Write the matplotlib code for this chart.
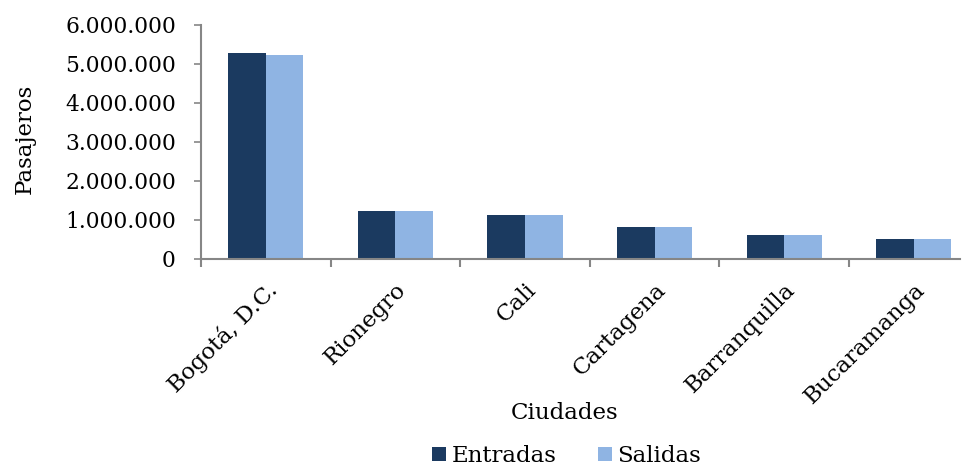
import matplotlib
matplotlib.use("Agg")
import matplotlib.pyplot as plt
import matplotlib.transforms as mtransforms
import numpy as np
from matplotlib.ticker import FuncFormatter, FixedLocator

ciudades = ["Bogotá, D.C.", "Rionegro", "Cali", "Cartagena", "Barranquilla", "Bucaramanga"]
entradas = [5290000, 1240000, 1140000, 830000, 625000, 525000]
salidas = [5240000, 1240000, 1140000, 830000, 625000, 520000]

plt.rcParams['font.family'] = ['DejaVu Serif']

fig = plt.figure(figsize=(9.69, 4.68), dpi=100)
ax = fig.add_axes([0.2074, 0.4466, 0.7833, 0.5])

x = np.arange(len(ciudades))
w = 0.29
c_dark = "#1B3A60"
c_light = "#8FB4E3"
ax.bar(x - w/2, entradas, w, color=c_dark, label="Entradas")
ax.bar(x + w/2, salidas, w, color=c_light, label="Salidas")

ax.set_xlim(-0.5, 5.357)
ax.set_ylim(0, 6000000)
ax.set_yticks(np.arange(0, 6000001, 1000000))
ax.yaxis.set_major_formatter(FuncFormatter(lambda v, p: f"{int(v):,}".replace(",", ".")))

ax.set_xticks(x)
ax.set_xticklabels(ciudades, rotation=45, ha="right", rotation_mode="anchor")
offset = mtransforms.ScaledTranslation(-6/72, 0, fig.dpi_scale_trans)
for lbl in ax.get_xticklabels():
    lbl.set_transform(lbl.get_transform() + offset)
ax.xaxis.set_minor_locator(FixedLocator(np.arange(-0.5, 5.4, 1.0)))
ax.tick_params(axis="x", which="major", length=0, pad=14, labelsize=16.5)
ax.tick_params(axis="x", which="minor", length=6, color="#868686", width=1.5)
ax.tick_params(axis="y", length=5, color="#868686", width=1.2, labelsize=15.7, pad=13)

for s in ["top", "right"]:
    ax.spines[s].set_visible(False)
for s in ["left", "bottom"]:
    ax.spines[s].set_color("#868686")
    ax.spines[s].set_linewidth(1.5)

ax.set_ylabel("Pasajeros", fontsize=16.5)
ax.yaxis.set_label_coords(-0.218, 0.515)
ax.set_xlabel("Ciudades", fontsize=16.5)
ax.xaxis.set_label_coords(0.4796, -0.611)

fig.legend(loc="center", bbox_to_anchor=(0.585, 0.025), ncol=2, frameon=False,
           fontsize=16.5, handlelength=0.6, handleheight=0.6, columnspacing=1.8,
           handletextpad=0.25, borderpad=0.1)

fig.savefig("out.png", dpi=100)
